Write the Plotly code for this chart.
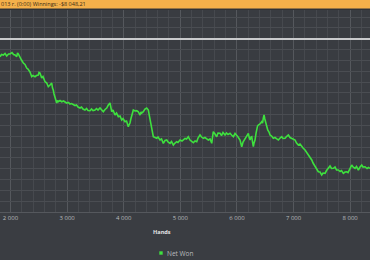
import plotly.graph_objects as go

hands = [1815, 1841, 1873, 1903, 1933, 1965, 1991, 2027, 2053, 2080, 2110, 2124, 2138, 2168, 2194,
         2226, 2256, 2286, 2309, 2345, 2362, 2375, 2398, 2433, 2459, 2491, 2504, 2521, 2539, 2551,
         2574, 2610, 2640, 2654, 2668, 2698, 2728, 2742, 2756, 2769, 2786, 2804, 2816, 2830, 2845,
         2875, 2905, 2936, 2963, 2993, 3025, 3051, 3078, 3110, 3140, 3166, 3193, 3228, 3254, 3281,
         3316, 3343, 3369, 3405, 3431, 3458, 3493, 3519, 3546, 3581, 3608, 3640, 3670, 3700, 3728,
         3740, 3758, 3772, 3788, 3811, 3829, 3846, 3873, 3905, 3935, 3965, 3988, 4023, 4050, 4067,
         4081, 4097, 4111, 4126, 4141, 4156, 4170, 4200, 4230, 4258, 4270, 4288, 4306, 4318, 4346,
         4376, 4406, 4435, 4451, 4465, 4479, 4495, 4509, 4523, 4553, 4583, 4606, 4641, 4668, 4700,
         4730, 4760, 4783, 4818, 4845, 4877, 4906, 4936, 4959, 4995, 5030, 5083, 5110, 5141, 5171,
         5198, 5230, 5260, 5290, 5313, 5348, 5375, 5407, 5436, 5463, 5495, 5525, 5555, 5569, 5583,
         5613, 5643, 5666, 5702, 5728, 5754, 5790, 5816, 5843, 5878, 5905, 5937, 5967, 5997, 6020,
         6055, 6073, 6085, 6108, 6143, 6170, 6202, 6214, 6232, 6249, 6262, 6276, 6290, 6302, 6320,
         6338, 6350, 6364, 6378, 6408, 6438, 6452, 6467, 6479, 6493, 6509, 6523, 6544, 6567, 6585,
         6612, 6643, 6673, 6700, 6732, 6762, 6792, 6815, 6850, 6876, 6908, 6938, 6968, 6991, 7027,
         7053, 7085, 7115, 7145, 7168, 7203, 7230, 7261, 7291, 7322, 7345, 7380, 7407, 7438, 7468,
         7498, 7521, 7557, 7583, 7610, 7645, 7671, 7703, 7733, 7760, 7792, 7822, 7848, 7880, 7910,
         7940, 7963, 7998, 8028, 8051, 8087, 8113, 8145, 8175, 8205, 8228, 8263, 8299, 8325, 8352]

net_won = [-831, -729, -753, -683, -799, -706, -706, -637, -729, -753, -831, -660, -706, -891, -983,
           -1122, -1191, -1353, -1399, -1537, -1630, -1754, -1699, -1754, -1699, -1676, -1561, -1584, -1722, -1814,
           -1745, -1985, -2045, -2184, -2216, -2138, -2045, -2276, -2369, -2553, -2738, -2899, -2969, -2853, -2909,
           -2853, -2909, -2876, -2923, -2969, -2946, -3015, -2992, -3061, -3084, -3061, -3153, -3200, -3153, -3246,
           -3292, -3223, -3315, -3324, -3246, -3315, -3292, -3223, -3292, -3200, -3269, -3370, -3269, -3200, -3061,
           -3015, -2969, -3153, -3370, -3292, -3454, -3523, -3431, -3601, -3569, -3754, -3684, -3832, -3800, -3938,
           -4063, -3961, -3892, -3707, -3523, -3384, -3292, -3338, -3324, -3370, -3477, -3523, -3384, -3431, -3370,
           -3246, -3200, -3292, -3523, -3754, -3984, -4215, -4400, -4525, -4562, -4599, -4539, -4677, -4631, -4830,
           -4700, -4677, -4770, -4830, -4746, -4908, -4816, -4755, -4792, -4677, -4723, -4599, -4631, -4525, -4677,
           -4723, -4801, -4723, -4755, -4585, -4446, -4539, -4599, -4562, -4631, -4677, -4631, -4830, -4539, -4294,
           -4400, -4525, -4354, -4368, -4470, -4331, -4446, -4354, -4423, -4368, -4446, -4525, -4377, -4446, -4539,
           -4677, -4862, -4986, -4770, -4599, -4492, -4368, -4539, -4677, -4539, -4525, -4770, -4986, -4816, -4677,
           -4354, -4137, -4031, -3984, -3938, -3832, -3892, -3661, -3523, -3707, -3906, -3984, -4215, -4308, -4446,
           -4492, -4599, -4562, -4631, -4677, -4585, -4525, -4608, -4599, -4516, -4446, -4562, -4599, -4631, -4677,
           -4816, -4908, -4862, -4986, -5046, -5139, -5231, -5369, -5462, -5600, -5739, -5910, -5970, -6141, -6155,
           -6294, -6201, -6215, -6085, -5970, -5878, -5993, -5984, -5924, -6062, -6062, -6131, -6085, -6215, -6155,
           -6141, -6178, -5970, -5832, -5924, -5984, -5901, -6062, -5924, -5832, -5924, -5910, -5993, -5947, -5984]

title_text = "013 г. (0:00) Winnings: -$8 048,21"
x_title = "Hands"
series_name = "Net Won"

W, H = 370, 260
T, B = 10, 48
plot_h = H - T - B

def py(px):
    # pixel row (from top) -> paper y
    return (H - B - px) / plot_h

fig = go.Figure()
fig.add_trace(go.Scatter(
    x=hands, y=net_won, mode="lines", name=series_name,
    line=dict(color="#3ee03e", width=1.6), showlegend=False,
))

fig.update_layout(
    width=W, height=H,
    margin=dict(l=0, r=0, t=T, b=B, pad=0),
    paper_bgcolor="#3a3d42",
    plot_bgcolor="#393c41",
    separators=", ",
    font=dict(family="Open Sans", size=6, color="#b9bbbe"),
    xaxis=dict(
        range=[1814.5, 8351], tick0=2000, dtick=1000, tickformat=",d",
        showgrid=True, gridcolor="#55585d", gridwidth=1,
        minor=dict(dtick=200, tick0=2000, showgrid=True, gridcolor="#46494e", gridwidth=1),
        zeroline=False, showline=True, linecolor="#55585d", linewidth=1,
        ticks="", tickfont=dict(size=6, color="#b9bbbe"),
    ),
    yaxis=dict(
        range=[-8000, 1325], dtick=500, tick0=0,
        showgrid=True, gridcolor="#4a4d52", gridwidth=1,
        zeroline=True, zerolinecolor="#c9cacc", zerolinewidth=2,
        showticklabels=False, ticks="",
    ),
    shapes=[
        dict(type="rect", xref="paper", yref="paper", x0=0, x1=1, y0=py(10), y1=py(8.5),
             fillcolor="#2f3236", line=dict(width=0), layer="above"),
        dict(type="rect", xref="paper", yref="paper", x0=0, x1=1, y0=py(8.5), y1=py(0),
             fillcolor="#f4b04a", line=dict(width=0), layer="above"),
        dict(type="rect", xref="paper", yref="paper", x0=159.3 / W, x1=162.7 / W,
             y0=py(254.7), y1=py(251.3), fillcolor="#3ee03e", line=dict(width=0)),
    ],
    annotations=[
        dict(text=title_text, xref="paper", yref="paper", x=-0.003, y=py(4.5),
             xanchor="left", yanchor="middle", showarrow=False,
             font=dict(size=5.5, color="#3a2a12", family="Open Sans")),
        dict(text="<b>" + x_title + "</b>", xref="paper", yref="paper", x=161.5 / W, y=py(231.7),
             xanchor="center", yanchor="middle", showarrow=False,
             font=dict(size=5.6, color="#e2e3e4", family="Open Sans")),
        dict(text=series_name, xref="paper", yref="paper", x=164.5 / W, y=py(253),
             xanchor="left", yanchor="middle", showarrow=False,
             font=dict(size=6.5, color="#b9bbbe", family="Open Sans")),
    ],
)

fig.write_html("out.html")
